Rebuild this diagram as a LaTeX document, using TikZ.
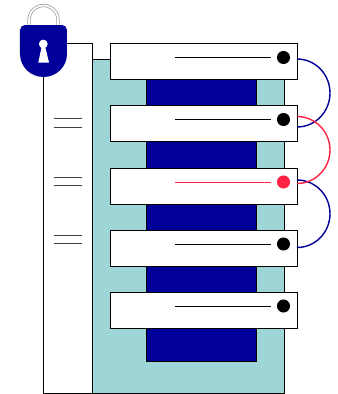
\documentclass[tikz,border=0pt]{standalone}
\usepackage{xcolor}
\usetikzlibrary{calc}

\definecolor{padblue}{RGB}{0,0,153}
\definecolor{padteal}{RGB}{158,213,214}
\definecolor{padred}{RGB}{255,34,68}

\tikzset{
  slab/.style={draw=black, fill=white, line width=0.75pt, minimum width=140.25pt,
    minimum height=27pt, inner sep=0pt, outer sep=0pt},
  pin/.style={circle, fill=#1, minimum size=9.8pt, inner sep=0pt, outer sep=0pt},
  link/.style={line width=1.05pt, #1}
}

\begin{document}
\begin{tikzpicture}[x=0.75pt, y=-0.75pt]

% === Drawing region ===
\useasboundingbox (0,0) rectangle (338,394);

% === Body ===
\draw[fill=padteal, line width=0.75pt] (92.5,59) rectangle (284.5,393);
\draw[fill=white, line width=0.75pt] (43.5,43) rectangle (92.5,393);
\draw[fill=padblue, line width=0.75pt] (146.5,59) rectangle (256.5,361);

% Short marks on the column
\foreach \ypos in {118.5,177,235} {
  \draw[line width=0.6pt, black!75] (54,\ypos) -- (82,\ypos);
  \draw[line width=0.6pt, black!75] (54,\ypos+8.5) -- (82,\ypos+8.5);
}

% === Slabs ===
\foreach \name/\ypos/\col in {a/61.5/black, b/123.5/black, c/186/padred, d/248/black, e/310/black} {
  \node[slab] (slab\name) at (204,\ypos) {};
  \node[pin=\col] (pin\name) at (283.5,\ypos-4) {};
  \coordinate (wire\name) at (175,\ypos-4);
  \draw[\col, line width=0.75pt] (wire\name) -- ($(pin\name)+(-12,0)$);
}

% === Links ===
\coordinate (outa) at (297,59);
\coordinate (mida) at (330,93);
\coordinate (ina) at (297,127);
\coordinate (outb) at (297,116.5);
\coordinate (midb) at (330,150);
\coordinate (inb) at (297,183.5);
\coordinate (outc) at (297,180);
\coordinate (midc) at (330,213.75);
\coordinate (inc) at (297,247.5);
\draw[link=padblue] (outa) to[out=0, in=90] (mida) to[out=-90, in=0] (ina);
\draw[link=padblue] (outc) to[out=0, in=90] (midc) to[out=-90, in=0] (inc);
\draw[link=padred] (outb) to[out=0, in=90] (midb) to[out=-90, in=0] (inb);

% === Padlock ===
\draw[gray!80, line width=2.4pt] (29,27) -- (29,20) arc[start angle=180, end angle=360, radius=14.5] -- (58,27);
\draw[white, line width=1.3pt] (29,27) -- (29,20) arc[start angle=180, end angle=360, radius=14.5] -- (58,27);
\fill[padblue] (20,30) arc[start angle=180, end angle=270, radius=5] -- (62,25)
  arc[start angle=270, end angle=360, radius=5] -- (67,54)
  arc[start angle=0, end angle=180, x radius=23.5, y radius=23] -- cycle;
\fill[white] (43.3,44) circle (4.4);
\fill[white] (41.8,46) -- (45,46) -- (49,62.5) -- (38.3,62.5) -- cycle;

\end{tikzpicture}
\end{document}
